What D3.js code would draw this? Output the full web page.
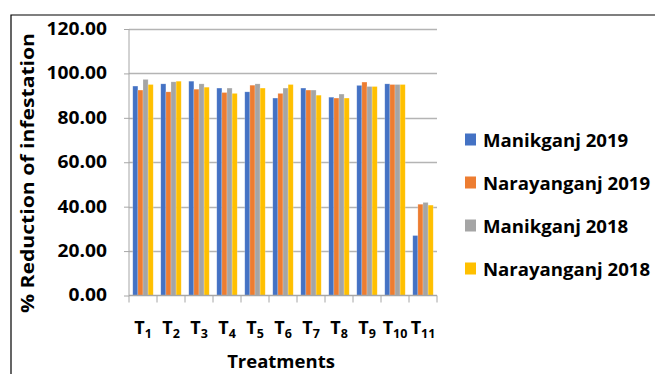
<!DOCTYPE html>
<html>
<head>
<meta charset="utf-8">
<script src="https://cdn.jsdelivr.net/npm/d3@7"></script>
<style>
  html, body { margin: 0; padding: 0; background: #fff; }
  svg { display: block; font-family: "Open Sans", "Noto Sans", sans-serif; font-weight: 700; }
</style>
</head>
<body>
<svg id="chart" width="655" height="374"></svg>
<script>
// Treatments T1..T11
const treatments = ["1", "2", "3", "4", "5", "6", "7", "8", "9", "10", "11"];
const seriesNames = ["Manikganj 2019", "Narayanganj 2019", "Manikganj 2018", "Narayanganj 2018"];
const seriesColors = ["#4472C4", "#ED7D31", "#A5A5A5", "#FFC000"];

// % reduction of infestation per treatment, one array per location/year
const manikganj2019   = [94.3, 95.3, 96.5, 93.4, 91.7, 88.9, 93.4, 89.3, 94.6, 95.3, 27.0];
const narayanganj2019 = [92.5, 91.7, 92.9, 91.4, 94.7, 91.0, 92.5, 88.9, 96.1, 95.0, 41.1];
const manikganj2018   = [97.3, 96.2, 95.3, 93.4, 95.3, 93.4, 92.5, 90.7, 94.1, 95.0, 41.9];
const narayanganj2018 = [95.0, 96.5, 93.8, 91.0, 93.4, 95.0, 90.2, 88.9, 94.1, 95.0, 40.7];
const seriesValues = [manikganj2019, narayanganj2019, manikganj2018, narayanganj2018];

const yTicks = [0, 20, 40, 60, 80, 100, 120];

const svg = d3.select("#chart");

// outer frame (top and left edges visible)
svg.append("path")
  .attr("d", "M11,374 V15 H655")
  .attr("fill", "none")
  .attr("stroke", "#000")
  .attr("stroke-width", 1.2);

const plot = { left: 129, right: 437, top: 29, bottom: 295.5 };

const x = d3.scaleBand()
  .domain(treatments)
  .range([plot.left, plot.right])
  .paddingInner(0.27)
  .paddingOuter(0.135);

const xs = d3.scaleBand()
  .domain(d3.range(seriesNames.length))
  .range([0, x.bandwidth()]);

const y = d3.scaleLinear().domain([0, 120]).range([plot.bottom, plot.top]);

// horizontal gridlines
svg.append("g")
  .selectAll("line")
  .data(yTicks.filter(d => d > 0))
  .join("line")
  .attr("x1", plot.left).attr("x2", plot.right)
  .attr("y1", d => Math.round(y(d)) + 0.5).attr("y2", d => Math.round(y(d)) + 0.5)
  .attr("stroke", "#b4b4b4")
  .attr("stroke-width", 1.3);

// bars
const groups = svg.append("g")
  .selectAll("g")
  .data(treatments)
  .join("g")
  .attr("transform", d => `translate(${x(d)},0)`);

groups.selectAll("rect")
  .data((d, i) => seriesValues.map((vals, s) => ({ s, v: vals[i] })))
  .join("rect")
  .attr("x", d => xs(d.s))
  .attr("width", xs.bandwidth())
  .attr("y", d => y(d.v))
  .attr("height", d => y(0) - y(d.v))
  .attr("fill", d => seriesColors[d.s])
  .attr("stroke", "#ffffff")
  .attr("stroke-opacity", 0.35)
  .attr("stroke-width", 0.6);

// y axis
const yAxis = svg.append("g")
  .attr("transform", `translate(${plot.left},0)`)
  .call(d3.axisLeft(y).tickValues(yTicks).tickFormat(d3.format(".2f")).tickSize(5).tickPadding(17));
yAxis.select(".domain").attr("stroke", "#a6a6a6").attr("d", `M0,${plot.top}V${plot.bottom}`);
yAxis.selectAll(".tick line").attr("stroke", "#a6a6a6");
yAxis.selectAll(".tick text")
  .attr("fill", "#000")
  .style("font-family", "'Open Sans', sans-serif")
  .style("font-weight", 700)
  .style("font-size", "17px")
  .each(function () {
    // widen the tick labels slightly, keeping each label's own proportions
    const w = this.getComputedTextLength();
    d3.select(this).attr("textLength", w * 1.13).attr("lengthAdjust", "spacingAndGlyphs");
  });

// x axis line and boundary ticks
svg.append("line")
  .attr("x1", plot.left).attr("x2", plot.right)
  .attr("y1", plot.bottom).attr("y2", plot.bottom)
  .attr("stroke", "#a6a6a6").attr("stroke-width", 1.3);
const edges = treatments.map(t => x(t) - x.step() * x.paddingInner() / 2).concat([plot.right]);
svg.append("g")
  .selectAll("line")
  .data(edges)
  .join("line")
  .attr("x1", d => d).attr("x2", d => d)
  .attr("y1", plot.bottom).attr("y2", plot.bottom + 7)
  .attr("stroke", "#a6a6a6");

// x tick labels: T with subscript number
const xl = svg.append("g")
  .selectAll("text")
  .data(treatments)
  .join("text")
  .attr("x", d => x(d) + x.bandwidth() / 2)
  .attr("y", 334)
  .attr("text-anchor", "middle")
  .attr("fill", "#000");
xl.append("tspan").style("font-size", "18px").text("T");
xl.append("tspan").style("font-size", "12.5px").attr("dy", 4).text(d => d);

// axis titles
svg.append("text")
  .attr("x", (plot.left + plot.right) / 2 - 2)
  .attr("y", 368)
  .attr("text-anchor", "middle")
  .style("font-size", "18.5px")
  .text("Treatments");

svg.append("text")
  .attr("transform", "translate(34,173) rotate(-90)")
  .attr("text-anchor", "middle")
  .style("font-size", "17px")
  .attr("textLength", 280)
  .attr("lengthAdjust", "spacingAndGlyphs")
  .text("% Reduction of infestation");

// legend
const legend = svg.append("g")
  .selectAll("g")
  .data(seriesNames)
  .join("g")
  .attr("transform", (d, i) => `translate(465,${139.5 + i * 43})`);
legend.append("rect")
  .attr("x", 0).attr("y", -6)
  .attr("width", 11).attr("height", 12)
  .attr("fill", (d, i) => seriesColors[i]);
legend.append("text")
  .attr("x", 18).attr("y", 7)
  .style("font-size", "18.6px")
  .text(d => d);
</script>
</body>
</html>
